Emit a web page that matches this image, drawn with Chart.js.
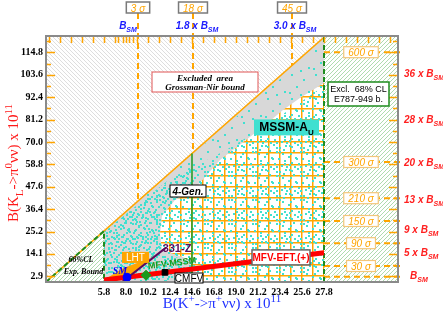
<!DOCTYPE html>
<html><head><meta charset="utf-8">
<script src="https://cdn.jsdelivr.net/npm/chart.js@4.4.1/dist/chart.umd.min.js"></script>
<style>html,body{margin:0;padding:0;background:#fff;overflow:hidden}canvas{display:block}</style>
</head><body>
<canvas id="c" width="443" height="317"></canvas>
<script>
// ---------------- data ----------------
const xTickValues = [5.8, 8.0, 10.2, 12.4, 14.6, 16.8, 19.0, 21.2, 23.4, 25.6, 27.8];
const xTickLabels = ['5.8','8.0','10.2','12.4','14.6','16.8','19.0','21.2','23.4','25.6','27.8'];
const yTickValues = [2.9, 14.1, 25.2, 36.4, 47.6, 58.8, 70.0, 81.2, 92.4, 103.6, 114.8];
const yTickLabels = ['2.9','14.1','25.2','36.4','47.6','58.8','70.0','81.2','92.4','103.6','114.8'];
const xRange = [0, 35.2];
const yRange = [0, 123];

const gnBoundX = [0, 27.95];          // Grossman-Nir bound
const gnBoundY = [0, 123];
const klExpBoundX = 5.8;              // 68% CL exp. bound (lower left)
const kpExpBoundX = 27.8;             // E787-949 68% CL

const gridEdgeX = [14.5, 14.5, 11.6, 11.4, 11.6, 12.9, 14.6, 16.7, 17.4, 18.7, 20.0, 21.8, 23.7, 25.4, 27.8];
const gridEdgeY = [0, 11, 16, 24, 33, 41, 45, 57, 61, 66, 71, 78, 86, 92, 99.5];

const scanMidX = [5.8, 5.8, 9, 12, 15, 18, 21, 24, 27.8, 27.8];
const scanMidY = [0, 25, 38, 49, 58, 66, 75, 85, 98, 0];
const scanDenseX = [5.8, 5.8, 9, 12, 14.6, 14.6, 12.9, 11.6, 11.4, 12.0, 14.5, 14.5];
const scanDenseY = [0, 25, 38, 50, 58, 45, 41, 33, 20, 14, 10, 0];

const mfvEftX = [5.8, 27.8];  const mfvEftY = [1.0, 14.6];
const z331X = [7.6, 12.0];    const z331Y = [0, 17.2];
const lhtX = [5.9, 7.7, 10.4, 10.9, 10.0, 8.4, 7.4];
const lhtY = [1.4, 6.9, 11.9, 13.9, 9.9, 3.4, 0.9];
const smPoint = {x: 8.1, y: 2.4};
const mfvMssmPoint = {x: 10.0, y: 3.4};
const cmfvPoint = {x: 11.9, y: 4.8};
const fourGenX = 14.6;

const sigmaXValues = [9.2, 14.7, 24.6];
const sigmaXLabels = ['3 \u03c3', '18 \u03c3', '45 \u03c3'];
const bsmXValues = [8.2, 15.1, 24.9];
const bsmXLabels = ['', '1.8 x ', '3.0 x '];
const sigmaYValues = [114.9, 60.0, 41.9, 30.5, 19.4, 8.0, 2.6];
const sigmaYLabels = ['600 \u03c3', '300 \u03c3', '210 \u03c3', '150 \u03c3', '90 \u03c3', '30 \u03c3', ''];
const bsmYValues = [104.2, 81.2, 60.0, 41.4, 26.2, 15.0, 3.4];
const bsmYLabels = ['36 x ', '28 x ', '20 x ', '13 x ', '9 x ', '5 x ', ''];
const bsmBandTicks = [7.2, 7.7, 8.3, 8.7];

// ---------------- helpers ----------------
const ORANGE = '#ffa500';
const GREEN = '#1e8c1e';
const SERIF = '"Liberation Serif","Times New Roman",serif';
const SANS = '"Liberation Sans",Arial,Helvetica,sans-serif';
const canvas = document.getElementById('c');
const mainCtx = canvas.getContext('2d');

function pts(xs, ys){ return xs.map((x,i)=>({x:x, y:ys[i]})); }
function diagAt(x){ return gnBoundY[0] + (gnBoundY[1]-gnBoundY[0])*(x-gnBoundX[0])/(gnBoundX[1]-gnBoundX[0]); }

// axis grid: tick values, midpoints, extended by half steps to the axis ends
function gridOf(t, lo, hi){
  const out = [];
  const h0 = (t[1]-t[0])/2, h1 = (t[t.length-1]-t[t.length-2])/2;
  for (let v=t[0]-h0; v>lo+0.05; v-=h0) out.unshift(v);
  t.forEach((v,i)=>{ out.push(v); if(i<t.length-1) out.push((v+t[i+1])/2); });
  for (let v=t[t.length-1]+h1; v<hi-0.05; v+=h1) out.push(v);
  return out;
}
const xGrid = gridOf(xTickValues, xRange[0], xRange[1]);
const yGrid = gridOf(yTickValues, yRange[0], yRange[1]);

function hatch(size, color, lw, dir){
  const c=document.createElement('canvas'); c.width=c.height=size;
  const g=c.getContext('2d'); g.fillStyle='#fff'; g.fillRect(0,0,size,size);
  g.strokeStyle=color; g.lineWidth=lw; g.beginPath();
  for(let o=-size;o<=size;o+=size){
    if(dir>0){ g.moveTo(o,size); g.lineTo(o+size,0);} else { g.moveTo(o,0); g.lineTo(o+size,size);} }
  g.stroke(); return mainCtx.createPattern(c,'repeat');
}
function dots(size, list, color){
  const c=document.createElement('canvas'); c.width=c.height=size;
  const g=c.getContext('2d'); g.fillStyle=color;
  list.forEach(p=>g.fillRect(p[0],p[1],2,2));
  return mainCtx.createPattern(c,'repeat');
}
const dotsMid = [[1,1],[9,0],[15,3],[21,1],[5,6],[12,7],[18,9],[0,12],[7,13],[14,14],[20,16],[3,18],[10,19],[17,21],[22,22],[6,22],[12,3],[19,5],[2,9]];
const dotsDense = [[3,7],[10,2],[15,9],[18,14],[6,12],[11,16],[0,4],[5,0],[16,1],[8,8],[13,12],[2,16],[7,18],[18,6],[14,18],[4,2],[9,11],[16,16]];
const dotsSparse = [[3,2],[15,7],[8,14],[20,19],[1,20],[12,22]];
const CYAN = '#40e0d0';

const patGrayHatch = hatch(4, '#d0d0d0', 0.7, -1);
const patGreenHatch = hatch(4, '#8ccc8c', 0.7, 1);
const patMid = dots(24, dotsMid, CYAN);
const patDense = dots(20, dotsDense, CYAN);
const patSparse = dots(24, dotsSparse, CYAN);

// polygons
const grayHatchPoly = [{x:gnBoundX[0],y:gnBoundY[0]},{x:xRange[0],y:yRange[1]},{x:gnBoundX[1],y:gnBoundY[1]}];
const greenRightPoly = [{x:kpExpBoundX,y:yRange[0]},{x:kpExpBoundX,y:yRange[1]},{x:xRange[1],y:yRange[1]},{x:xRange[1],y:yRange[0]}];
const greenTriPoly = [{x:0,y:0},{x:klExpBoundX,y:diagAt(klExpBoundX)},{x:klExpBoundX,y:0}];
const grayPoly = [{x:klExpBoundX,y:0},{x:klExpBoundX,y:diagAt(klExpBoundX)},{x:kpExpBoundX,y:diagAt(kpExpBoundX)}]
  .concat(pts(gridEdgeX,gridEdgeY).reverse());
const scanAllPoly = [{x:klExpBoundX,y:0},{x:klExpBoundX,y:diagAt(klExpBoundX)},{x:kpExpBoundX,y:diagAt(kpExpBoundX)-2},{x:kpExpBoundX,y:0}];

function poly(data, bg, order){ return {data, showLine:true, fill:'shape', backgroundColor:bg, borderWidth:0, pointRadius:0, order}; }
function line(data, color, w, order, dash, clip){ return {data, showLine:true, fill:false, borderColor:color, borderWidth:w, borderDash:dash||[], pointRadius:0, order, clip: clip===undefined?undefined:clip}; }

const datasets = [
  poly(grayHatchPoly, patGrayHatch, 30),
  poly(greenRightPoly, patGreenHatch, 29),
  poly(greenTriPoly, patGreenHatch, 28),
  poly(grayPoly, '#d8d8d8', 27),
  poly(scanAllPoly, patSparse, 26),
  poly(pts(scanMidX,scanMidY), patMid, 25),
  poly(pts(scanDenseX,scanDenseY), patDense, 24),
];
sigmaXValues.forEach(v=>datasets.push(line([{x:v,y:134.5},{x:v,y:diagAt(v)}], ORANGE, 2, 20, [6,4], false)));
sigmaYValues.forEach(v=>datasets.push(line([{x:kpExpBoundX,y:v},{x:35.6,y:v}], ORANGE, 2, 20, [6,4], false)));
datasets.push(line(pts(gnBoundX,gnBoundY), ORANGE, 1.6, 15));
datasets.push(line([{x:0,y:0},{x:klExpBoundX,y:diagAt(klExpBoundX)},{x:klExpBoundX,y:0}], GREEN, 2, 14, [5,3]));
datasets.push(line([{x:kpExpBoundX,y:0},{x:kpExpBoundX,y:yRange[1]}], GREEN, 2, 14, [5,3]));
datasets.push(line([{x:fourGenX,y:0},{x:fourGenX,y:diagAt(fourGenX)}], '#2a9d2a', 1.6, 12));
datasets.push(poly(pts(lhtX,lhtY), ORANGE, 10));
datasets.push(line(pts(mfvEftX,mfvEftY), '#ff0000', 5, 8));
datasets.push(line(pts(z331X,z331Y), '#5c0a5c', 2, 7));
datasets.push({data:[smPoint], pointStyle:'circle', pointRadius:4, backgroundColor:'#0000ff', borderColor:'#0000ff', order:2});
datasets.push({data:[mfvMssmPoint], pointStyle:'rectRot', pointRadius:5, backgroundColor:'#1a9a1a', borderColor:'#1a9a1a', order:2});
datasets.push({data:[cmfvPoint], pointStyle:'rect', pointRadius:4, backgroundColor:'#000', borderColor:'#000', order:2});

// rich text: parts [[text, mode]] mode 0 normal, 1 sup, -1 sub
function rich(ctx, parts, x, y, align, f){
  const fnt = sz => `${f.style||'normal'} ${f.weight||'normal'} ${sz}px ${f.family}`;
  let w=0; const items=parts.map(([t,m])=>{const sz=m?Math.round(f.size*0.7):f.size; ctx.font=fnt(sz); const tw=ctx.measureText(t).width; w+=tw; return {t,m,sz,tw};});
  let cx = align==='center'? x-w/2 : align==='right'? x-w : x;
  ctx.textAlign='left'; ctx.textBaseline='alphabetic'; ctx.fillStyle=f.color;
  items.forEach(it=>{ ctx.font=fnt(it.sz); const dy=it.m===1?-f.size*0.42:it.m===-1?f.size*0.3:0; ctx.fillText(it.t,cx,y+dy); cx+=it.tw; });
  return w;
}
function box(ctx, cx, cy, w, h, fill, stroke, lw){
  ctx.save(); ctx.fillStyle=fill; ctx.fillRect(cx-w/2, cy-h/2, w, h);
  if(stroke){ ctx.strokeStyle=stroke; ctx.lineWidth=lw; ctx.strokeRect(cx-w/2, cy-h/2, w, h);} ctx.restore();
}

const annot = {
  id:'annot',
  afterDatasetsDraw(chart){
    const {ctx, chartArea:a} = chart; const xs=chart.scales.x, ys=chart.scales.y;
    const X=v=>xs.getPixelForValue(v), Y=v=>ys.getPixelForValue(v);
    ctx.save();
    // orange ticks
    ctx.strokeStyle=ORANGE; ctx.lineWidth=1.5; ctx.beginPath();
    xGrid.concat(bsmBandTicks).forEach(v=>{ const p=Math.round(X(v))+0.5; ctx.moveTo(p,a.top); ctx.lineTo(p,a.top+7); });
    yGrid.forEach(v=>{ const p=Math.round(Y(v))+0.5; const L = yTickValues.some(t=>Math.abs(t-v)<1e-6)?9:5;
      ctx.moveTo(a.left,p); ctx.lineTo(a.left+L,p); ctx.moveTo(a.right,p); ctx.lineTo(a.right-L,p); });
    ctx.stroke();
    // frame
    ctx.strokeStyle='#8a8a8a'; ctx.lineWidth=2; ctx.strokeRect(a.left, a.top, a.right-a.left, a.bottom-a.top);

    // axis titles
    ctx.save(); ctx.translate(13, 163); ctx.rotate(-Math.PI/2);
    rich(ctx, [['B(K',0],['L',-1],['->\u03c0',0],['0',1],['\u03bd\u03bd) x 10',0],['11',1]], 0, 5, 'center', {size:15, family:SERIF, color:'#ff1a1a'});
    ctx.restore();
    rich(ctx, [['B(K',0],['+',1],['->\u03c0',0],['+',1],['\u03bd\u03bd) x 10',0],['11',1]], 222, 308, 'center', {size:15, family:SERIF, color:'#2233ff'});

    // top sigma boxes and B_SM labels
    sigmaXValues.forEach((v,i)=>{
      ctx.font=`italic 10px ${SANS}`; const w=ctx.measureText(sigmaXLabels[i]).width+9;
      box(ctx, X(v), 7.5, w, 11, '#fff', '#7a7a7a', 1.5);
      rich(ctx, [[sigmaXLabels[i],0]], X(v), 11.5, 'center', {size:10, style:'italic', family:SANS, color:ORANGE});
    });
    bsmXValues.forEach((v,i)=>{
      rich(ctx, [[bsmXLabels[i]+'B',0],['SM',-1]], X(v), 29, 'center', {size:10, style:'italic', weight:'bold', family:SANS, color:'#1a1aff'});
    });
    // right sigma boxes and red labels
    sigmaYValues.forEach((v,i)=>{
      if(!sigmaYLabels[i]) return;
      ctx.font=`italic 10px ${SANS}`; const w=ctx.measureText(sigmaYLabels[i]).width+9;
      box(ctx, X(31.5), Y(v), w, 11, '#fff', '#f3c67a', 1.2);
      rich(ctx, [[sigmaYLabels[i],0]], X(31.5), Y(v)+3.8, 'center', {size:10, style:'italic', family:SANS, color:ORANGE});
    });
    bsmYValues.forEach((v,i)=>{
      rich(ctx, [[bsmYLabels[i]+'B',0],['SM',-1]], bsmYLabels[i]?a.right+6:a.right+12, Y(v)+3.5, 'left', {size:10, style:'italic', weight:'bold', family:SANS, color:'#ff2020'});
    });

    // in-plot annotations (anchored in data coordinates)
    box(ctx, X(15.9), Y(100), 106, 20, '#fff', '#e05555', 1);
    rich(ctx, [['Excluded  area',0]], X(15.9), Y(100)-1.5, 'center', {size:9, style:'italic', weight:'bold', family:SERIF, color:'#000'});
    rich(ctx, [['Grossman-Nir bound',0]], X(15.9), Y(100)+7.5, 'center', {size:9, style:'italic', weight:'bold', family:SERIF, color:'#000'});

    box(ctx, X(31.25), Y(94), 61, 24, '#fff', GREEN, 1.5);
    rich(ctx, [['Excl.  68% CL',0]], X(31.25), Y(94)-2, 'center', {size:9, family:SANS, color:'#000'});
    rich(ctx, [['E787-949 b.',0]], X(31.25), Y(94)+8, 'center', {size:9, family:SANS, color:'#000'});

    box(ctx, X(24.05), Y(77.3), 65, 16, CYAN, null, 0);
    rich(ctx, [['MSSM-A',0],['U',-1]], X(24.05), Y(77.3)+3.5, 'center', {size:12, weight:'bold', family:SANS, color:'#000'});

    box(ctx, X(14.2), Y(45.5), 36, 12, '#fff', '#000', 1);
    rich(ctx, [['4-Gen.',0]], X(14.2), Y(45.5)+3.5, 'center', {size:10, style:'italic', weight:'bold', family:SANS, color:'#000'});

    box(ctx, X(8.95), Y(12.3), 26, 10, ORANGE, ORANGE, 1);
    rich(ctx, [['LHT',0]], X(8.95), Y(12.3)+3.6, 'center', {size:10, family:SANS, color:'#fff'});

    rich(ctx, [['331-Z',0]], X(13.1), Y(17)+4, 'center', {size:11, weight:'bold', family:SANS, color:'#5c0a5c'});
    rich(ctx, [['SM',0]], X(7.4), Y(6)+3.5, 'center', {size:10, style:'italic', weight:'bold', family:SERIF, color:'#0000ff'});

    ctx.save(); ctx.translate(X(12.6), Y(9.5)); ctx.rotate(-0.12);
    rich(ctx, [['MFV-MSSM',0]], 0, 3, 'center', {size:9, weight:'bold', family:SANS, color:'#1a9a1a'});
    ctx.restore();

    box(ctx, X(14.3), Y(2), 28, 10, '#fff', '#000', 1);
    rich(ctx, [['CMFV',0]], X(14.3), Y(2)+3.6, 'center', {size:10, family:SANS, color:'#000'});

    box(ctx, X(23.5), Y(12.3), 58, 15, '#fff', '#666', 1.5);
    rich(ctx, [['MFV-EFT.(+)',0]], X(23.5), Y(12.3)+3.6, 'center', {size:10, weight:'bold', family:SANS, color:'#ff0000'});

    rich(ctx, [['68%CL',0]], X(3.5), Y(11.5)+3, 'center', {size:8, style:'italic', weight:'bold', family:SERIF, color:'#000'});
    rich(ctx, [['Exp. Bound',0]], X(3.75), Y(5.5)+3, 'center', {size:8, style:'italic', weight:'bold', family:SERIF, color:'#000'});
    ctx.restore();
  }
};

const near = (v, arr) => arr.findIndex(t=>Math.abs(t-v)<1e-6);

new Chart(canvas, {
  type:'scatter',
  data:{datasets},
  options:{
    responsive:false, animation:false, devicePixelRatio:1, events:[],
    layout:{padding:{left:0, right:45, top:36, bottom:0}},
    plugins:{legend:{display:false}, tooltip:{enabled:false}},
    scales:{
      x:{type:'linear', min:xRange[0], max:xRange[1],
        afterBuildTicks:s=>{ s.ticks = xGrid.map(v=>({value:v})); },
        afterFit:s=>{ s.height = 35; },
        grid:{color:ORANGE, lineWidth:1.5, drawTicks:false},
        border:{display:false},
        ticks:{autoSkip:false, maxRotation:0, minRotation:0, padding:4, color:'#000',
          font:{family:SERIF, weight:'bold', size:10},
          callback:v=>{ const i=near(v,xTickValues); return i>=0?xTickLabels[i]:''; }}},
      y:{type:'linear', min:yRange[0], max:yRange[1],
        afterBuildTicks:s=>{ s.ticks = yGrid.map(v=>({value:v})); },
        afterFit:s=>{ s.width = 46; },
        grid:{color:ORANGE, lineWidth:1.5, drawTicks:false},
        border:{display:false},
        ticks:{autoSkip:false, padding:3, color:'#000',
          font:{family:SERIF, weight:'bold', size:10},
          callback:v=>{ const i=near(v,yTickValues); return i>=0?yTickLabels[i]:''; }}}
    }
  },
  plugins:[annot]
});
</script>
</body></html>
